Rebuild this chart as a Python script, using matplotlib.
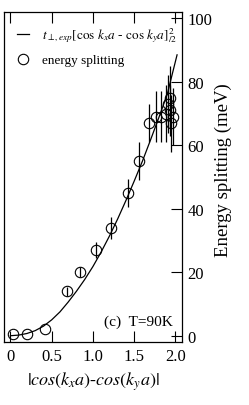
import numpy as np
import matplotlib
matplotlib.use('Agg')
import matplotlib.pyplot as plt

plt.rcParams['font.family'] = 'Liberation Serif'
plt.rcParams['mathtext.fontset'] = 'stix'

# energy splitting data points
x_pts = [0.03, 0.2, 0.42, 0.68, 0.84, 1.04, 1.22, 1.42, 1.56, 1.68, 1.76, 1.82, 1.88, 1.91, 1.93, 1.94, 1.95, 1.97]
y_pts = [0.5, 0.5, 2.0, 14, 20, 27, 34, 45, 55, 67, 69, 69, 70, 73, 75, 71, 67, 69]
y_err = [0, 0, 0, 1.5, 1.5, 2.5, 3.5, 4.5, 6, 6, 8, 8, 9, 9, 10, 8, 9, 9]

# t_perp curve
x_fit = [0.0, 0.1, 0.2, 0.3, 0.4, 0.5, 0.6, 0.7, 0.8, 0.9, 1.0, 1.1, 1.2, 1.3, 1.4, 1.5, 1.6, 1.7, 1.8, 1.9, 2.02]
y_fit = [0.0, 0.2, 0.7, 1.6, 3.0, 5.0, 7.5, 10.6, 14.0, 17.7, 21.8, 26.4, 31.4, 36.8, 42.6, 48.7, 55.0, 61.8, 68.8, 76.0, 88.5]

fig = plt.figure(figsize=(2.49, 4.06), dpi=100)
ax = fig.add_axes([0.016, 0.155, 0.715, 0.813])

ax.plot(x_fit, y_fit, color='black', lw=0.9,
        label=r'$t_{\perp,exp}[\cos\,k_x a$ - $\cos\,k_y a]^2_{/2}$')
ax.errorbar(x_pts, y_pts, yerr=y_err, fmt='none', ecolor='black', elinewidth=0.9, capsize=0)
ax.plot(x_pts, y_pts, 'o', mfc='none', mec='black', ms=7.5, mew=0.8, label='energy splitting')

ax.set_xlim(-0.078, 2.08)
ax.set_ylim(-2, 102)
ax.set_xticks([0, 0.5, 1.0, 1.5, 2.0])
ax.set_xticklabels(['0', '0.5', '1.0', '1.5', '2.0'])
ax.set_yticks([0, 20, 40, 60, 80, 100])
ax.yaxis.tick_right()
ax.tick_params(axis='x', direction='in', length=8, width=0.8, top=True, labelsize=12, pad=4)
ax.tick_params(axis='y', direction='in', length=8, width=0.8, labelsize=12, pad=4)
for s in ax.spines.values():
    s.set_linewidth(0.9)

ax.set_xlabel(r'$|cos(k_x a)$-$cos(k_y a)|$', fontsize=13, labelpad=4)
fig.text(0.895, 0.581, 'Energy splitting (meV)', fontsize=13.5, rotation=90,
         ha='center', va='center')
ax.text(1.13, 3.5, '(c)  T=90K', fontsize=11)

ax.legend(loc='upper left', frameon=False, fontsize=9.5, handlelength=0.9,
          handletextpad=1.0, borderaxespad=0.1, labelspacing=0.75,
          borderpad=0.9)

fig.savefig('out.png', dpi=100)
